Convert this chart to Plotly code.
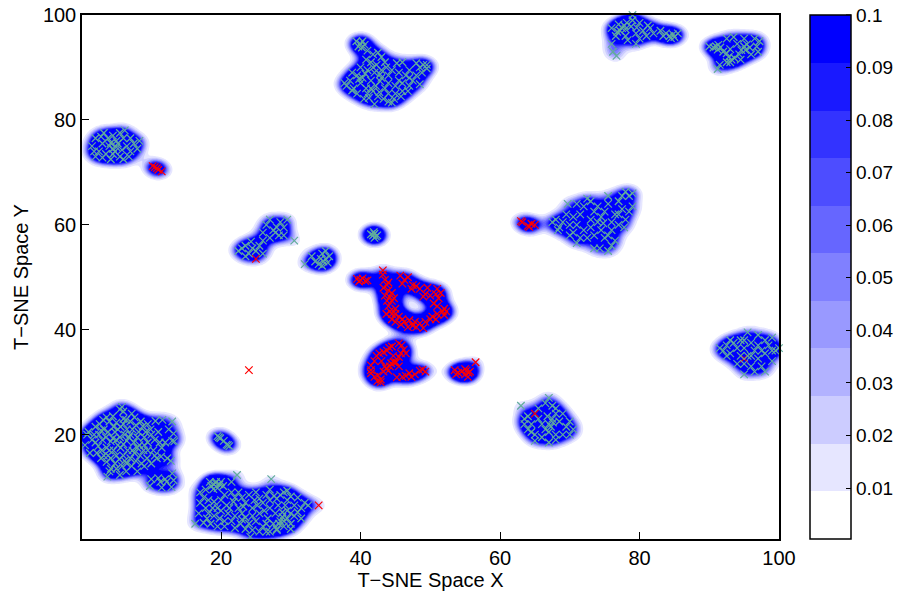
import numpy as np
import plotly.graph_objects as go

green_lower_left = [(1,20.5),(2,21.5),(1.5,19),(2.8,20.8),(2.6,22),(2.4,17.8),(3.5,19.5),(3.2,21),(4,22.5),(4.5,23.5),(5.5,24.8),(5.8,25.3),(6,24.4),(7.2,24),(7.6,23.3),(5,22.3),(5.6,21.5),(6.4,22.8),(6.5,21),(7,20),(7.8,21.8),(8.2,20.5),(8.8,21.6),(9.5,22),(9.9,21),(10.6,22.6),(11.6,22.8),(12.5,21),(13,22.5),(13.2,20.2),(13,18.8),(13.3,18.7),(12,18.5),(10.5,19),(9.5,18.5),(9,19.5),(8.3,18),(7.5,18.5),(6.5,18.8),(5.5,19.5),(4.8,20.5),(4.2,18.7),(3.6,17.5),(3.2,16),(3.6,14.8),(4.2,13.5),(4.8,14.5),(5,16),(5.6,17.5),(6,16),(6.6,17),(7,15.5),(7.6,16.5),(8.4,16),(8.9,17),(9.4,15.5),(10,14.5),(10.8,15.5),(11.4,15.8),(12.3,15.5),(12.8,15),(4.2,15.5),(5,13.5),(5.8,14),(6.4,13),(7.2,14),(8,13),(8.6,14.5),(3,19),(4,17),(5.2,18),(6.2,20),(7.3,17),(8,19.5),(9.2,20.5),(4.5,19.3),(3.8,20.5),(1.2,16.5),(0.5,18),(0.8,20),(2,18.5),(2.2,16.5),(4,13),(3.7,12),(5.5,12.3),(6.2,15),(9,14),(10.3,17),(11,20.5),(7,22.5),(6,23),(11.5,17.5),(10,11.5),(9.8,10.2),(11,11.7),(11.3,11),(12,11.5),(12.2,11),(13,12.6),(13.2,11.3),(12.9,10),(11.5,9.9),(19.7,19.5),(19.9,19.3),(19.5,19.7),(21,18),(21.2,17.8),(20.8,18.1),(20.4,18.8),(2.5,20),(3.1,22.8),(3.6,23.3),(4.6,21.5),(5.2,21),(6,22),(6.8,19.5),(7.3,21),(8.5,22.5),(9,18),(7.8,15),(6.5,14.5),(5.4,15.3),(4.6,17),(3.8,16),(2.8,15.5),(10,20),(11.2,18.5),(10.5,16),(9.5,17),(8,17.5),(6,18.2),(5,19),(2.9,17),(1.8,20)]
green_bottom = [(19,10.5),(19.3,11),(18.6,10.2),(19.8,10.5),(20,11),(19.5,9.8),(18.9,9.6),(20.3,10.2),(19.2,10.8),(18.4,11),(21.5,11),(22.3,12.3),(21.5,9),(22.5,9),(23,8),(17,9),(17.5,8),(18.2,7.5),(17,7),(17.8,6),(16.8,5),(16.3,3),(17.5,3.2),(18.5,3),(19,4.5),(18.2,5),(19.5,6),(19,7.2),(20,7.5),(20.5,8.5),(20,5.5),(20.8,6.5),(21,5),(20.5,3.5),(21.5,3.5),(22,4.5),(22.5,6),(21.8,7.2),(23,5),(23.5,7),(24,8.5),(25,9),(24.5,6),(24,3),(23.5,2),(24.5,1.8),(24.2,0.5),(25,3.5),(25.5,5),(26,7),(26.5,8.5),(27,9.5),(27.2,11.5),(27,6),(26.7,4),(26,2.5),(27,1.5),(28,2),(28.5,3.5),(27.8,5),(28.2,6.5),(28.5,8.5),(29,9),(29.5,7.5),(29.5,5.5),(29,3.5),(30,3),(30.5,4.5),(30.5,6.5),(31,8),(31.5,6),(32,7),(32.5,6.5),(31.5,4),(30,2),(28,1.8),(25.5,1.5),(26.5,3),(22,2.2),(19.5,2.5),(28.8,4.3),(29.5,4),(28.3,3),(29,2.5),(24.8,7.5),(25.5,7.8),(22.8,3),(23.5,4.2),(27,7.5),(28,7.8),(30,8.2),(29.5,9.3),(18,4),(18.8,6),(19.8,4),(21.2,6),(22,8),(23.2,6.3),(24.5,4.5),(25.2,6.5),(26.2,5.5),(26.5,1.5),(27.5,3),(28.8,5.2),(29.2,6.5),(30,5),(31,5.2),(20.5,2.5),(23,3.8),(17.8,9.5),(27.6,8.3)]
green_top_mid = [(40,94.5),(40.3,95),(39.7,94),(40.6,94.3),(39.4,95),(40.2,93.8),(41,93.2),(41.8,92.5),(42.5,92.8),(43,92),(41.5,91),(42.3,90.5),(43.5,91),(44.5,89.5),(45.2,90.8),(44,88.5),(43,88),(42,89),(41,89.5),(40,90),(39.5,88.5),(38.8,89),(38.5,87.5),(38,86.5),(37.7,87),(39,86),(40,87),(40.8,86),(41.5,86),(41.8,85.5),(42.2,86.5),(41,85),(42.5,84.5),(43.5,86),(44,85),(44.8,84),(45,86.5),(45.5,87.5),(46,85.5),(46.5,88.5),(47,89.5),(47.5,87.5),(48,88.5),(48.5,86.8),(49.5,90.5),(44,83.5),(42,83),(40.5,84),(39.5,85),(43,89.5),(45.5,89),(46,91),(44,87),(40.3,88),(41.5,87.5),(42.7,85.3),(41.2,84.2),(44.5,83.3),(45,85),(47,86.5),(46,87),(40.8,91.5),(41.8,90),(42.8,88.7),(43.7,90),(39.8,87.8),(40.7,88.8),(38.8,85.6),(42.8,87.4),(43.3,84),(45.8,84.5),(46.8,85.5),(47,88),(48.5,90),(49,90.5),(49.5,89.8),(48,90.8),(48.8,89)]
green_top_right = [(77.5,97.5),(77.8,98),(77.2,97),(78,97.3),(77,98.2),(78.2,98.5),(79,99),(79,100),(80,98.5),(78,96),(78.3,95.2),(79.5,96.5),(80.5,97),(81,96),(80,95.5),(76,97.5),(76.6,96),(81.5,97.5),(82,96.5),(83,97),(83.8,96.5),(84.3,96),(84.8,96.3),(85,95.8),(84.5,95.6),(76.2,93),(76.7,92.2),(76,94.5),(79.5,94.5),(91,94),(91.3,94.3),(90.6,93.8),(91.6,93.8),(91.2,93.4),(90,94),(92.5,95.5),(93.5,95.8),(94,94.5),(93,93.5),(92.8,92),(93.2,91.5),(93.6,91.8),(93,91),(92.5,92.7),(94.3,92.5),(95,94),(95.4,94.4),(95.8,93.8),(95.2,93.3),(96,92.5),(96.8,94),(97.2,95),(97,93),(95,95.5),(91.5,90.5),(91.2,89.7),(94.5,91.5),(76.8,96.8),(78.8,97.8),(79.6,97.6),(81.2,98),(83.4,96),(85.5,96.5),(92,93),(94.6,93.3),(92.5,91),(96.5,95.5)]
green_left = [(1.5,75),(2,76.5),(2.5,74),(3,75.5),(3.2,77.5),(3.5,73.5),(4,75),(4.5,74.5),(4.8,74),(5,74.8),(4.5,73.5),(5.2,75.5),(5.5,73),(4.5,77),(5.5,77.5),(6,76.5),(6.5,75),(7,74),(7,76.5),(7.5,75.5),(8,74.5),(6,72.5),(4.2,72.5),(3,72.8),(8.3,76),(6.2,78),(2,73),(3.8,76.5),(5,76),(4.2,75.6),(5.8,74.3),(6.8,73),(2.8,76.8),(1.8,74)]
green_center = [(22.5,55),(23,55.5),(23.5,56),(24,54.5),(24.5,55.5),(25,55),(25.5,56),(24.3,56.8),(23.5,54),(26,54.5),(26,58.5),(26.5,60),(27,61),(27.5,59),(27.8,58.5),(28,59.5),(28.3,58),(28.5,60.5),(29,59.5),(29.5,61),(29,58),(27,57.5),(30.5,57),(26,57),(33.5,53),(34,52.5),(34.3,53.5),(34.7,53),(35,53.5),(35.3,52.8),(34.5,54.5),(35,55),(33,54),(32,52.5),(35.5,54),(34.5,52.2),(41.8,58),(42,58.3),(42.2,57.8),(42,57.5),(41.5,58.2),(42.4,58),(41.9,58.6)]
green_right = [(67.5,60.5),(68,61),(68.5,59.5),(69,60.5),(69.7,64),(69.5,62),(68.3,59),(70,60),(70.5,61.5),(71,60),(71.5,57.5),(72,59),(71.5,62),(72,63.5),(72.5,65),(73,61),(73.5,62.5),(73,59.5),(73.5,58),(74,60.5),(74.5,61.5),(74.5,59),(75,57.5),(74.3,55.5),(75.5,55),(75,62.5),(75.5,64),(76,60.5),(76,59),(76.5,62),(76.5,57),(77,64.5),(77,60),(77.5,65.5),(78,66.3),(78.5,65.5),(79,66),(77.5,63),(78,61),(78.5,62.5),(77.8,59.5),(79,63.5),(76,56),(74,63.5),(75.5,65.5),(73,64.5),(91.5,36.5),(92,36),(92.5,37),(93,35.5),(93.5,37.5),(94,36.5),(94.5,35),(95,33.5),(95,36.5),(95.5,35),(96,33),(96,37.5),(96.5,36),(97,34.5),(97,37),(97.5,33),(98,35.5),(98,38),(99,36),(99,34),(95,38),(96.5,32),(100,36.5),(94,33.5),(93,38),(63,25.5),(67,27),(66.5,26),(65.5,25),(67.5,25.5),(68,24),(64.5,22),(65.5,23),(66,22),(66.5,21),(67,22),(67.3,21.5),(67.6,22.3),(67,20.5),(68,20),(68.5,22.5),(69,24),(69.5,21.5),(70,22.5),(65,20),(66,19.5),(64,23.5),(68,19),(67.5,23),(66.8,23.5),(70.5,58.5),(72.5,57.5),(74.8,60.3),(75.5,58),(77,62),(71,64),(73.5,55.5),(92.5,35),(94.5,38),(97.5,36),(98.5,37),(96,35),(64.5,20.5),(69,20),(68,25),(70,58),(71,56.5),(63.5,22),(64,21),(70.5,21),(70,20),(65,18.8),(67,18.5),(63.5,23),(97,39),(95.5,39.5),(99,38.5),(98,32),(99.5,36),(95,31.5)]
red_ring = [(39.5,49.7),(40,49.5),(40.3,49.8),(40.7,49.3),(39.8,49.2),(41,49.4),(43.2,51.3),(43.2,50.5),(43.5,49.5),(43.3,48),(43.8,48.5),(44,47.5),(44.5,47),(44.2,46.2),(43.8,45.5),(44.5,45.5),(44,44.5),(44.2,43.5),(43.7,43),(44.5,43),(45,44),(44.5,42),(45,41.5),(45.5,42.5),(45.8,41),(46.3,41.5),(46.8,40.5),(47,41.8),(47.5,40.8),(48,40.5),(48.5,41.2),(49,40.3),(49.3,41.5),(50,42),(50.3,42.5),(50.8,42),(51,43),(51,44.5),(50.5,45),(51.2,46),(51.5,47),(51,47.8),(50.8,46.8),(51.8,43.5),(52,42.8),(52.3,43.5),(52,44),(49.6,48),(49.3,46.8),(49,46.3),(50,46.5),(45.7,50.3),(46.3,49.5),(46.8,50),(46,48.8),(47.5,48.5),(44.8,46),(45,43),(46,42),(47.8,41.5),(43.5,46.5),(44,49),(48,48.3),(48.5,47.8),(47.3,47.8)]
red_lower = [(45.5,37.4),(45.9,37),(46.2,36.2),(46.5,35.5),(45.8,35.5),(45.5,34.8),(44.1,36.6),(44.5,36.8),(43.8,36),(43.3,35.7),(42.7,35.5),(42.3,35),(42,34),(41.5,33.2),(41.5,32.3),(41.5,31.7),(42,31),(42.4,30.2),(42.9,30.5),(42.5,31.3),(43.7,32.6),(43.5,33),(44,32.2),(43.3,32),(44.2,33),(44.4,33.6),(44.8,33.8),(45.1,33.8),(45.5,33),(45.2,30.9),(46,31),(46.5,31.2),(47,31.7),(47.3,31),(47.8,31.5),(48.9,32.4),(49.3,32),(48.5,32.2),(43,34),(44.7,35),(42.9,30),(56.5,33.8),(53.5,32.3),(54,31.8),(54.5,32),(55,31.5),(55.2,32.2),(55.5,31.8),(55.7,32),(55,32.5),(53.7,31.5),(55.4,31)]
red_other = [(10.5,71),(10.8,70.8),(11.5,70.2),(10.2,71.2),(11,70.5),(24,32.3),(63,60.7),(64.2,59.6),(64.5,60.2),(65,60),(63.2,60.5),(64,59.8),(65,24),(95,34.5),(25,53.5),(34,6.5)]

tick_vals = [20, 40, 60, 80, 100]
bar_ticks = [0.01, 0.02, 0.03, 0.04, 0.05, 0.06, 0.07, 0.08, 0.09, 0.1]
BAR_MIN, BAR_MAX = 0.0003, 0.1

green = np.array(green_lower_left + green_bottom + green_top_mid + green_top_right + green_left + green_center + green_right)
red = np.array(red_ring + red_lower + red_other)
both = np.vstack([green, red])

# density of the plotted points, saturating at the colour bar's top
gx = np.linspace(0.07, 100, 360)
gy = np.linspace(0.1, 100, 300)
SX, SY, D0, POWER = 1.2, 1.25, 3.3, 2
dens = np.zeros((gy.size, gx.size))
for px, py in both:
    dens += np.outer(np.exp(-(gy - py) ** 2 / (2 * SY ** 2)), np.exp(-(gx - px) ** 2 / (2 * SX ** 2)))
dens = np.round(BAR_MAX * np.minimum(dens / D0, 1.0) ** POWER, 5)

n = 11
scale = []
for i in range(n):
    f = i / (n - 1)
    c = f"rgb({round(255*(1-f))},{round(255*(1-f))},255)"
    scale += [[i / n, c], [(i + 1) / n, c]]

font = dict(family="Liberation Sans", size=20, color="black")
fig = go.Figure()
fig.add_trace(go.Contour(
    x=gx, y=gy, z=dens, zmin=BAR_MIN, zmax=BAR_MAX, colorscale=scale, hoverinfo="skip",
    autocontour=False,
    contours=dict(start=0.0094, end=0.0910, size=0.00905, coloring="fill"),
    line=dict(width=0),
    colorbar=dict(
        x=(810 - 82) / 697, xanchor="left", y=0.5, yanchor="middle", len=1, thickness=41,
        thicknessmode="pixels", xpad=0, ypad=0, outlinecolor="black", outlinewidth=1.5,
        tickmode="array", tickvals=bar_ticks, ticktext=[str(t) for t in bar_ticks],
        ticks="inside", ticklen=5, tickcolor="black", tickfont=dict(font, size=19),
    ),
))
marker_style = dict(symbol="x-thin", size=7.5)
fig.add_trace(go.Scatter(x=red[:, 0], y=red[:, 1], mode="markers", cliponaxis=False, hoverinfo="skip",
                         marker=dict(**marker_style, line=dict(width=1.2, color="#ff0000"), color="#ff0000")))
fig.add_trace(go.Scatter(x=green[:, 0], y=green[:, 1], mode="markers", cliponaxis=False, hoverinfo="skip",
                         marker=dict(**marker_style, line=dict(width=1.2, color="#62ad9b"), color="#62ad9b")))
axis = dict(tickmode="array", tickvals=tick_vals, ticks="inside", ticklen=7, tickcolor="black", tickwidth=1,
            showline=True, mirror=True, linecolor="black", linewidth=1.5, showgrid=False, zeroline=False,
            tickfont=font, automargin=False)
shapes = [dict(type="line", xref="paper", yref="paper",
               x0=(851 - 82) / 697, x1=(846 - 82) / 697,
               y0=(t - BAR_MIN) / (BAR_MAX - BAR_MIN), y1=(t - BAR_MIN) / (BAR_MAX - BAR_MIN),
               line=dict(color="black", width=1)) for t in bar_ticks]
fig.update_layout(
    width=902, height=595, autosize=False, showlegend=False, shapes=shapes, hovermode=False,
    margin=dict(l=82, r=123, t=15, b=56, autoexpand=False), paper_bgcolor="white", plot_bgcolor="white",
    xaxis=dict(axis, range=[0.07, 100], title=dict(text="T\u2212SNE Space X", font=font, standoff=0)),
    yaxis=dict(axis, range=[0.1, 100], title=dict(text="T\u2212SNE Space Y", font=font, standoff=9)),
)
fig.write_html("out.html", config={"displayModeBar": False},
               post_script="document.body.style.margin='0';document.body.style.overflow='hidden';")
